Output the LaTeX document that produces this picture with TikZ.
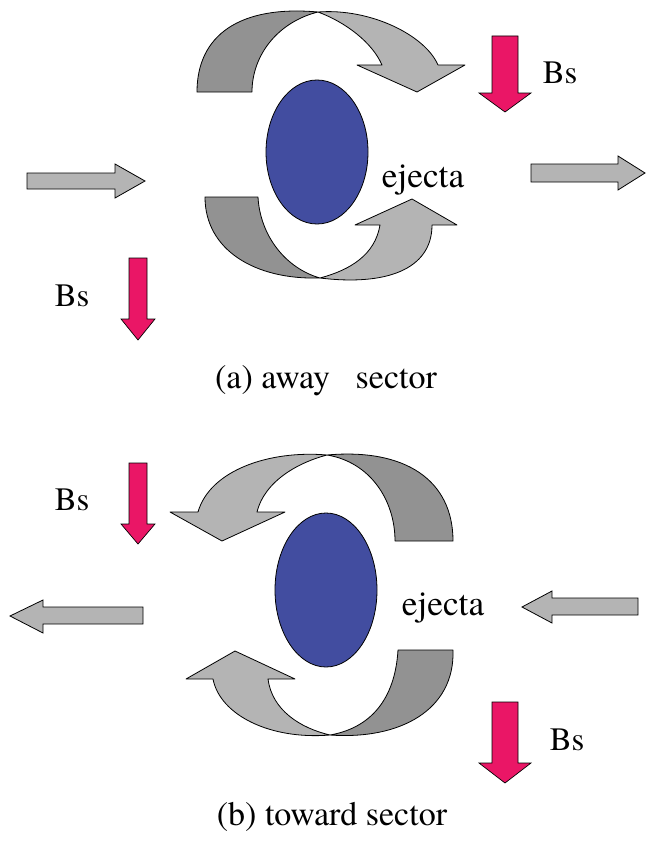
\documentclass[tikz,border=0pt]{standalone}
\usepackage{fontspec}
\setmainfont{texgyretermes-regular.otf}
\definecolor{darkband}{RGB}{146,146,146}
\definecolor{lightband}{RGB}{180,180,180}
\definecolor{pinkarrow}{RGB}{234,22,102}
\definecolor{ejectablue}{RGB}{66,77,160}
\tikzset{
  darkpart/.style={fill=darkband,draw=black,line width=0.6pt,line join=round},
  lightpart/.style={fill=lightband,draw=black,line width=0.6pt,line join=round},
  greyarrow/.style={fill=lightband,draw=black,line width=0.6pt},
  bsarrow/.style={fill=pinkarrow,draw=black,line width=0.5pt},
  ejectabody/.style={fill=ejectablue,draw=black,line width=0.6pt},
  lbl/.style={font=\fontsize{24.5}{28}\selectfont,inner sep=0pt,text=black},
  ejlbl/.style={font=\fontsize{26.5}{30}\selectfont,inner sep=0pt,text=black},
  caplbl/.style={font=\fontsize{25.5}{29}\selectfont,inner sep=0pt,text=black}
}
\begin{document}
\begin{tikzpicture}[x=0.75pt,y=-0.75pt]
\useasboundingbox (0,0) rectangle (646,849);
% ================= (a) away sector =================
% upper curved arrow
\path[darkpart] (197,92) .. controls (197,35) and (240,5) .. (318,12)
  .. controls (278,22) and (252,55) .. (252,92) -- cycle;
\path[lightpart] (318,12) .. controls (370,8) and (425,35) .. (438,65)
  -- (465,65) -- (417,92) -- (357,65) -- (382,65)
  .. controls (372,42) and (345,22) .. (318,12) -- cycle;
% lower curved arrow
\path[darkpart] (205,197) .. controls (205,250) and (255,280) .. (320,278)
  .. controls (285,268) and (260,235) .. (258,197) -- cycle;
\path[lightpart] (320,278) .. controls (385,286) and (432,270) .. (432,225)
  -- (457,225) -- (412,199) -- (355,225) -- (380,225)
  .. controls (375,255) and (350,270) .. (320,278) -- cycle;
% ejecta
\path[ejectabody] (317,152) ellipse [x radius=51, y radius=72];
% straight grey arrows
\path[greyarrow] (27,173) -- (115,173) -- (115,164) -- (145,181) -- (115,198) -- (115,189) -- (27,189) -- cycle;
\path[greyarrow] (531,164) -- (618,164) -- (618,156) -- (645,173) -- (618,190) -- (618,182) -- (531,182) -- cycle;
% Bs arrows
\path[bsarrow] (492,36) -- (518,36) -- (518,93) -- (531,93) -- (505,112) -- (479,93) -- (492,93) -- cycle;
\path[bsarrow] (129,258) -- (147,258) -- (147,319) -- (155,319) -- (138,340) -- (121,319) -- (129,319) -- cycle;
% labels
\node[lbl] (bsa1) at (560,73) {Bs};
\node[lbl] (bsa2) at (72,296) {Bs};
\node[ejlbl] (eja) at (423,180) {ejecta};
\node[caplbl] (capa) at (326,381) {(a) away\hspace{0.75em}sector};
% ================= (b) toward sector =================
% upper curved arrow
\path[darkpart] (453,541) .. controls (453,480) and (405,448) .. (327,455)
  .. controls (370,462) and (395,500) .. (395,541) -- cycle;
\path[lightpart] (327,455) .. controls (270,450) and (210,470) .. (198,512)
  -- (170,512) -- (222,541) -- (285,512) -- (257,512)
  .. controls (265,480) and (300,462) .. (327,455) -- cycle;
% lower curved arrow
\path[darkpart] (453,650) .. controls (455,710) and (400,740) .. (330,735)
  .. controls (370,728) and (395,700) .. (398,650) -- cycle;
\path[lightpart] (330,735) .. controls (270,740) and (220,715) .. (213,679)
  -- (186,679) -- (235,651) -- (295,679) -- (268,679)
  .. controls (272,710) and (300,728) .. (330,735) -- cycle;
% ejecta
\path[ejectabody] (326,590) ellipse [x radius=51, y radius=77];
% straight grey arrows
\path[greyarrow] (143,607) -- (43,607) -- (43,600) -- (10,616) -- (43,633) -- (43,624) -- (143,624) -- cycle;
\path[greyarrow] (638,598) -- (552,598) -- (552,591) -- (522,607) -- (552,623) -- (552,615) -- (638,615) -- cycle;
% Bs arrows
\path[bsarrow] (129,463) -- (147,463) -- (147,524) -- (155,524) -- (138,544) -- (121,524) -- (129,524) -- cycle;
\path[bsarrow] (492,702) -- (518,702) -- (518,763) -- (531,763) -- (505,783) -- (479,763) -- (492,763) -- cycle;
% labels
\node[lbl] (bsb1) at (72,500) {Bs};
\node[lbl] (bsb2) at (567,740) {Bs};
\node[ejlbl] (ejb) at (443,608) {ejecta};
\node[caplbl] (capb) at (332,817) {(b) toward sector};
\end{tikzpicture}
\end{document}
